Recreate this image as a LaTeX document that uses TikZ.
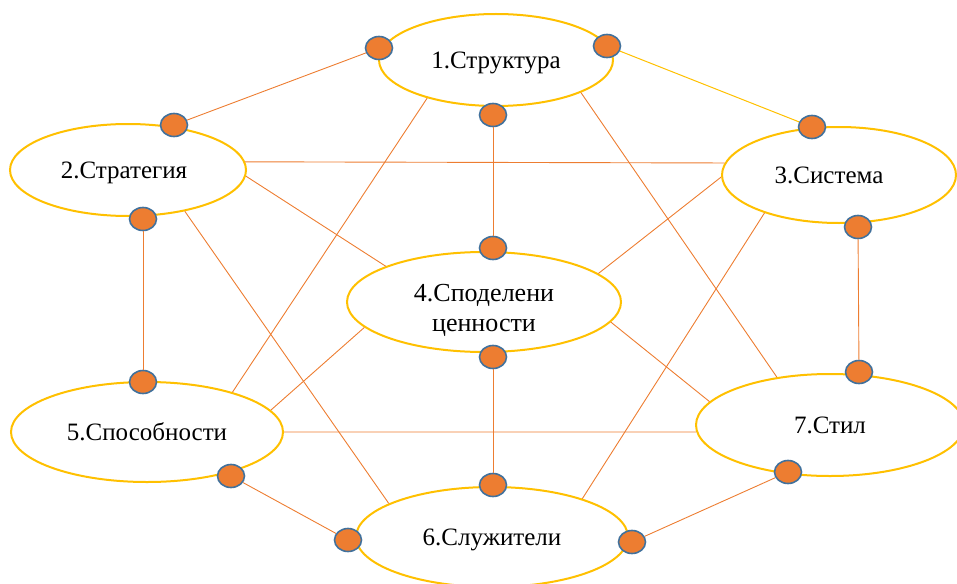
\documentclass[tikz,border=0pt]{standalone}
\usepackage{fontspec}
\setmainfont{Liberation Serif}
\usetikzlibrary{shapes.geometric}
\definecolor{ellc}{HTML}{FFC000}
\definecolor{linec}{HTML}{ED7D31}
\definecolor{dotc}{HTML}{ED7D31}
\definecolor{dotb}{HTML}{41719C}
\begin{document}
\begin{tikzpicture}[x=1pt,y=-1pt,
  oval/.style={ellipse, draw=ellc, line width=2pt, fill=white, inner sep=0pt,
    font=\fontsize{25}{30}\selectfont, align=center, text depth=0pt},
  tlab/.style={inner sep=0pt, font=\fontsize{25}{30}\selectfont, align=center, text depth=0pt},
  dot/.style={ellipse, draw=dotb, fill=dotc, line width=1.6pt,
    minimum width=27pt, minimum height=23pt, inner sep=0pt},
  link/.style={draw=linec, line width=0.9pt},
  ylink/.style={draw=ellc, line width=1pt}]
\useasboundingbox (0,0) rectangle (957,583);
% ellipses
\node[oval, minimum width=234pt, minimum height=92pt] (e1) at (496,60) {1.Структура};
\node[oval, minimum width=236pt, minimum height=92pt,
  label={[tlab, xshift=-4pt]center:2.Стратегия}] (e2) at (128,170) {};
\node[oval, minimum width=234pt, minimum height=96pt,
  label={[tlab, xshift=-10pt]center:3.Система}] (e3) at (839,175) {};
\node[oval, minimum width=274pt, minimum height=100pt,
  label={[tlab, font=\fontsize{26}{30}\selectfont, yshift=-6pt]center:{4.Споделени\\ценности}}] (e4) at (484,302) {};
\node[oval, minimum width=272pt, minimum height=100pt] (e5) at (147,432) {5.Способности};
\node[oval, minimum width=272pt, minimum height=100pt] (e6) at (492,537) {6.Служители};
\node[oval, minimum width=268pt, minimum height=102pt] (e7) at (830,425) {7.Стил};
% dots
\node[dot] (d1a) at (379,48) {};
\node[dot] (d1b) at (607,46) {};
\node[dot] (d1c) at (493,115) {};
\node[dot] (d2a) at (174,125) {};
\node[dot] (d2b) at (143,219) {};
\node[dot] (d3a) at (812,127) {};
\node[dot] (d3b) at (858,227) {};
\node[dot] (d4a) at (493,248) {};
\node[dot] (d4b) at (493,357) {};
\node[dot] (d5a) at (143,382) {};
\node[dot] (d5b) at (231,476) {};
\node[dot] (d6a) at (348,540) {};
\node[dot] (d6b) at (493,485) {};
\node[dot] (d6c) at (632,542) {};
\node[dot] (d7a) at (859,372) {};
\node[dot] (d7b) at (788,472) {};
% links
\draw[link] (d1a) -- (d2a);
\draw[ylink] (d1b) -- (d3a);
\draw[link] (d1c) -- (d4a);
\draw[link] (d2b) -- (d5a);
\draw[link] (d3b) -- (d7a);
\draw[link] (d4b) -- (d6b);
\draw[link] (d5b) -- (d6a);
\draw[link] (d6c) -- (d7b);
\draw[link] (e2.4) -- (e3.174);
\draw[link] (e5.0) -- (e7.183);
\draw[link] (e2.-3) -- (e4.160);
\draw[link] (e2.-36) -- (e6.162);
\draw[link] (e1.-151) -- (e5.25);
\draw[link] (e1.-21) -- (e7.138);
\draw[link] (e3.181) -- (e4.14.5);
\draw[link] (e3.207.5) -- (e6.23);
\draw[link] (e4.192.6) -- (e5.10);
\draw[link] (e4.-9.3) -- (e7.169.6);
\end{tikzpicture}
\end{document}
